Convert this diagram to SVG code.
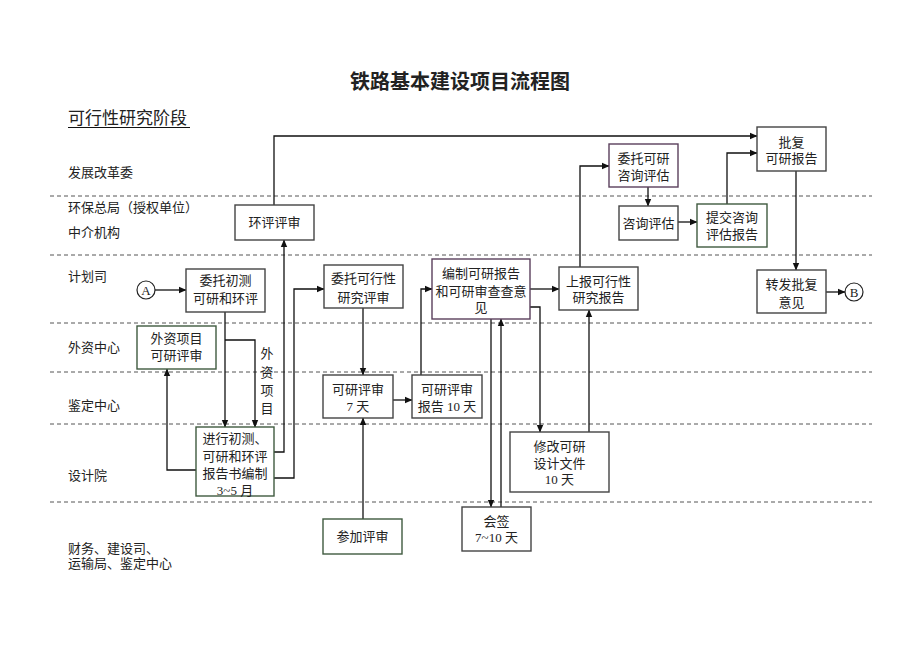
<svg xmlns="http://www.w3.org/2000/svg" width="920" height="651" viewBox="0 0 920 651">
<defs>
<marker id="ar" markerWidth="8" markerHeight="8" refX="7" refY="4" orient="auto" markerUnits="userSpaceOnUse">
<path d="M0,0.8 L7.5,4 L0,7.2 Z" fill="#111"/>
</marker>
<style>
text{font-family:"Liberation Serif","Noto Sans CJK SC",serif;fill:#222;}
.t{font-size:13px;text-anchor:middle;}
.l{font-size:13px;}
.b{fill:#fff;stroke:#444;stroke-width:1.4;}
.g{fill:#fff;stroke:#3f5a3f;stroke-width:1.4;}
.p{fill:#fff;stroke:#5a3f5c;stroke-width:1.4;}
.d{stroke:#555;stroke-width:1;stroke-dasharray:4,3;fill:none;}
.c{fill:none;stroke:#111;stroke-width:1.3;}
.ca{fill:none;stroke:#111;stroke-width:1.3;marker-end:url(#ar);}
</style>
</defs>
<rect width="920" height="651" fill="#fff"/>
<text x="460" y="89" style="font-size:20px;font-weight:bold;text-anchor:middle;">铁路基本建设项目流程图</text>
<text x="68" y="124" style="font-size:17px;">可行性研究阶段</text>
<line x1="68" y1="127.5" x2="190" y2="127.5" stroke="#111" stroke-width="1.2"/>
<g id="lanes">
<line class="d" x1="50" y1="196" x2="872" y2="196"/>
<line class="d" x1="50" y1="255" x2="872" y2="255"/>
<line class="d" x1="50" y1="323" x2="872" y2="323"/>
<line class="d" x1="50" y1="372" x2="872" y2="372"/>
<line class="d" x1="50" y1="424" x2="872" y2="424"/>
<line class="d" x1="50" y1="502" x2="872" y2="502"/>
<text class="l" x="68" y="177">发展改革委</text>
<text class="l" x="68" y="212">环保总局（授权单位）</text>
<text class="l" x="68" y="237">中介机构</text>
<text class="l" x="68" y="281">计划司</text>
<text class="l" x="68" y="352">外资中心</text>
<text class="l" x="68" y="410">鉴定中心</text>
<text class="l" x="68" y="480">设计院</text>
<text class="l" x="68" y="553">财务、建设司、</text>
<text class="l" x="68" y="568">运输局、鉴定中心</text>
</g>
<g id="connectors">
<polyline class="ca" points="274,205 274,136 757,136"/>
<polyline class="ca" points="727,204 727,153 757,153"/>
<polyline class="ca" points="796,171 796,270"/>
<polyline class="ca" points="826,292 845,292"/>
<polyline class="ca" points="155,290 186,290"/>
<polyline class="ca" points="225,312 225,427"/>
<polyline class="ca" points="225,340 255,340 255,427"/>
<polyline class="ca" points="196,470 167,470 167,369"/>
<polyline class="ca" points="274,452 284,452 284,240"/>
<polyline class="ca" points="274,478 294,478 294,289 324,289"/>
<polyline class="ca" points="363,308 363,375"/>
<polyline class="ca" points="363,519 363,418"/>
<polyline class="ca" points="393,400 412,400"/>
<polyline class="ca" points="421,375 421,289 432,289"/>
<polyline class="ca" points="530,289 559,289"/>
<polyline class="ca" points="530,307 540,307 540,432"/>
<polyline class="ca" points="589,432 589,310"/>
<polyline class="ca" points="491,319 491,507"/>
<polyline class="ca" points="501,507 501,319"/>
<polyline class="ca" points="580,267 580,166 609,166"/>
<polyline class="ca" points="648,187 648,206"/>
<polyline class="ca" points="678,222 697,222"/>
</g>
<g id="label-waizi">
<text class="t" x="267" y="358">外</text>
<text class="t" x="267" y="377">资</text>
<text class="t" x="267" y="395">项</text>
<text class="t" x="267" y="413">目</text>
</g>
<g id="nodeA"><circle cx="146" cy="290" r="9" fill="#fff" stroke="#222" stroke-width="1.2"/><text class="t" x="146" y="295">A</text></g>
<g id="nodeB"><circle cx="854" cy="292" r="9" fill="#fff" stroke="#222" stroke-width="1.2"/><text class="t" x="854" y="297">B</text></g>
<g id="huanping"><rect class="b" x="235" y="205" width="79" height="35"/><text class="t" x="274.5" y="227">环评评审</text></g>
<g id="weituo-chuce"><rect class="b" x="186" y="269" width="79" height="43"/><text class="t" x="225.5" y="285">委托初测</text><text class="t" x="225.5" y="303">可研和环评</text></g>
<g id="weituo-kexing"><rect class="b" x="324" y="265" width="79" height="43"/><text class="t" x="363.5" y="283">委托可行性</text><text class="t" x="363.5" y="302">研究评审</text></g>
<g id="bianzhi"><rect class="p" x="432" y="259" width="98" height="60"/><text class="t" x="481" y="278">编制可研报告</text><text class="t" x="481" y="296">和可研审查查意</text><text class="t" x="481" y="312">见</text></g>
<g id="shangbao"><rect class="b" x="559" y="267" width="79" height="43"/><text class="t" x="598.5" y="286">上报可行性</text><text class="t" x="598.5" y="302">研究报告</text></g>
<g id="weituo-zixun"><rect class="p" x="609" y="144" width="69" height="43"/><text class="t" x="643.5" y="163">委托可研</text><text class="t" x="643.5" y="180">咨询评估</text></g>
<g id="zixun"><rect class="b" x="619" y="206" width="59" height="34"/><text class="t" x="648.5" y="228">咨询评估</text></g>
<g id="tijiao"><rect class="g" x="697" y="204" width="70" height="43"/><text class="t" x="732" y="222">提交咨询</text><text class="t" x="732" y="239">评估报告</text></g>
<g id="pifu"><rect class="b" x="757" y="127" width="69" height="44"/><text class="t" x="791.5" y="147">批复</text><text class="t" x="791.5" y="163">可研报告</text></g>
<g id="zhuanfa"><rect class="b" x="757" y="270" width="69" height="43"/><text class="t" x="791.5" y="289">转发批复</text><text class="t" x="791.5" y="307">意见</text></g>
<g id="waizi"><rect class="g" x="137" y="326" width="79" height="43"/><text class="t" x="176.5" y="343">外资项目</text><text class="t" x="176.5" y="360">可研评审</text></g>
<g id="jinxing"><rect class="g" x="196" y="427" width="78" height="69"/><text class="t" x="235" y="443">进行初测、</text><text class="t" x="235" y="461">可研和环评</text><text class="t" x="235" y="478">报告书编制</text><text class="t" x="235" y="495">3~5 月</text></g>
<g id="pingshen"><rect class="b" x="323" y="375" width="70" height="43"/><text class="t" x="358" y="394">可研评审</text><text class="t" x="358" y="411">7 天</text></g>
<g id="pingshen-baogao"><rect class="b" x="412" y="375" width="70" height="43"/><text class="t" x="447" y="394">可研评审</text><text class="t" x="447" y="411">报告 10 天</text></g>
<g id="xiugai"><rect class="b" x="510" y="432" width="99" height="60"/><text class="t" x="559.5" y="451">修改可研</text><text class="t" x="559.5" y="468">设计文件</text><text class="t" x="559.5" y="484">10 天</text></g>
<g id="huiqian"><rect class="b" x="462" y="507" width="69" height="44"/><text class="t" x="496.5" y="526">会签</text><text class="t" x="496.5" y="542">7~10 天</text></g>
<g id="canjia"><rect class="g" x="323" y="519" width="79" height="35"/><text class="t" x="362.5" y="541">参加评审</text></g>
</svg>
